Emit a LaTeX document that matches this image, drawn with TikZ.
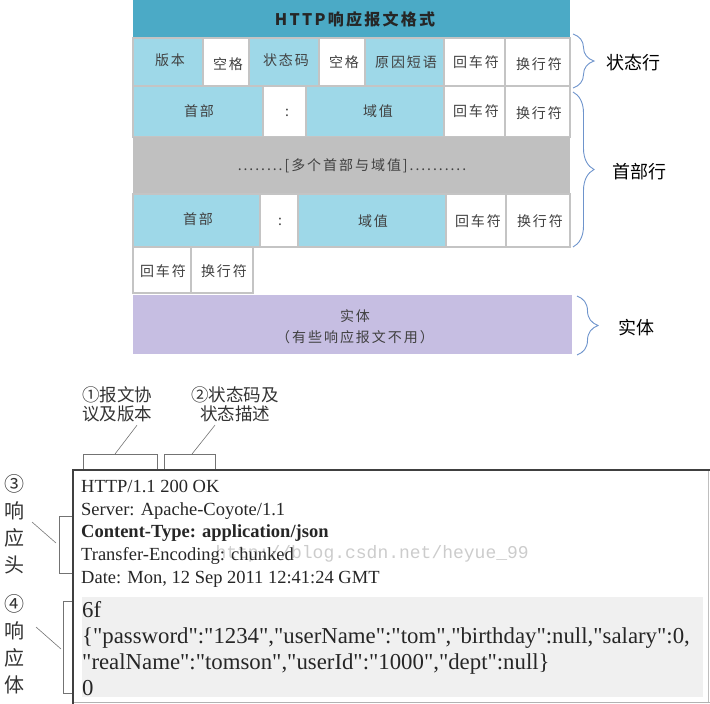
\documentclass[tikz,border=0pt]{standalone}
\usepackage{fontspec}
\setmainfont[Ligatures=TeXOff]{Liberation Serif}
\setmonofont{Liberation Mono}
\newfontfamily\cjk{Noto Sans CJK SC}
\newfontfamily\cjkcell[LetterSpace=14]{Noto Sans CJK SC}
\usetikzlibrary{positioning,calc}
\usetikzlibrary{decorations.pathreplacing}

\definecolor{hdrblue}{RGB}{75,170,198}
\definecolor{cellblue}{RGB}{158,216,232}
\definecolor{bandgray}{RGB}{192,192,192}
\definecolor{bodypurple}{RGB}{198,190,226}
\definecolor{gapgray}{RGB}{196,196,196}
\definecolor{bracecol}{RGB}{110,148,204}
\definecolor{bodyfill}{RGB}{240,240,240}

\tikzset{
  cell/.style={draw=gapgray, line width=1.6pt},
  celltext/.style={font=\cjkcell\fontsize{14}{16}\selectfont, text=black!75},
  sidebrace/.style={draw=bracecol, line width=0.9pt, decorate,
    decoration={brace, amplitude=21pt}},
  sidetext/.style={font=\cjk\fontsize{18}{20}\selectfont},
  note/.style={font=\cjk\fontsize{17.5}{19}\selectfont, align=center, text=black!80},
  leader/.style={draw=black!55, line width=0.6pt},
}

\begin{document}
\begin{tikzpicture}[x=1pt, y=-1pt]
\useasboundingbox (0,0) rectangle (710,704);

% title bar
\fill[hdrblue] (133,0) rectangle (570,38);
\node[font=\cjkcell\fontsize{16}{18}\selectfont\bfseries, text=black!85] (title) at (355,19) {HTTP响应报文格式};

% status line
\draw[cell, fill=cellblue] (133,38) rectangle (203,86);
\draw[cell, fill=white] (203,38) rectangle (249,86);
\draw[cell, fill=cellblue] (249,38) rectangle (319,86);
\draw[cell, fill=white] (319,38) rectangle (365,86);
\draw[cell, fill=cellblue] (365,38) rectangle (444,86);
\draw[cell, fill=white] (444,38) rectangle (505,86);
\draw[cell, fill=white] (505,38) rectangle (570,86);

\node[celltext] (version) at (170,60) {版本};
\node[celltext] (space1) at (228,64) {空格};
\node[celltext] (code) at (286,60) {状态码};
\node[celltext] (space2) at (344,62) {空格};
\node[celltext] (reason) at (406,62) {原因短语};
\node[celltext] (cr1) at (476,62) {回车符};
\node[celltext] (lf1) at (539,64) {换行符};

% header lines
\draw[cell, fill=cellblue] (133,86) rectangle (263,137);
\draw[cell, fill=white] (263,86) rectangle (306,137);
\draw[cell, fill=cellblue] (306,86) rectangle (444,137);
\draw[cell, fill=white] (444,86) rectangle (505,137);
\draw[cell, fill=white] (505,86) rectangle (570,137);

\node[celltext] (head1) at (199,111) {首部};
\node[celltext] (colon1) at (287,113) {:};
\node[celltext] (value1) at (378,111) {域值};
\node[celltext] (cr2) at (476,111) {回车符};
\node[celltext] (lf2) at (539,113) {换行符};

\fill[bandgray] (133,137) rectangle (570,194);
\node[celltext] (more) at (352,166) {........[多个首部与域值]..........};

\draw[cell, fill=cellblue] (133,194) rectangle (260,247);
\draw[cell, fill=white] (260,194) rectangle (298,247);
\draw[cell, fill=cellblue] (298,194) rectangle (446,247);
\draw[cell, fill=white] (446,194) rectangle (506,247);
\draw[cell, fill=white] (506,194) rectangle (570,247);

\node[celltext] (head2) at (198,219) {首部};
\node[celltext] (colon2) at (280,222) {:};
\node[celltext] (value2) at (373,221) {域值};
\node[celltext] (cr3) at (478,221) {回车符};
\node[celltext] (lf3) at (540,221) {换行符};

% empty line
\draw[cell, fill=white] (133,247) rectangle (191,293);
\draw[cell, fill=white] (191,247) rectangle (253,293);
\node[celltext] (cr4) at (163,271) {回车符};
\node[celltext] (lf4) at (224,271) {换行符};

% entity body
\fill[bodypurple] (133,295) rectangle (572,354);
\node[celltext] (entity) at (355,316) {实体};
\node[celltext] (entitynote) at (355,337) {（有些响应报文不用）};

% braces
\draw[sidebrace] (573,34) -- (573,88);
\node[sidetext] (statusrow) at (633,63) {状态行};
\draw[sidebrace] (573,92) -- (573,247);
\node[sidetext] (headrow) at (639,172) {首部行};
\draw[sidebrace] (577,296) -- (577,355);
\node[sidetext] (bodyrow) at (636,328) {实体};

% response example
\node[note] (proto) at (117,404) {①报文协\\议及版本};
\node[note] (status) at (235,404) {②状态码及\\状态描述};

\coordinate (protoB) at (115,454);
\coordinate (statusB) at (192,454);
\draw[leader] (83,470) |- (157,454) -- (157,470);
\draw[leader] (164,470) |- (215,454) -- (215,470);
\draw[leader] ($(proto.south)+(20,0)$) -- (protoB);
\draw[leader] ($(status.south)+(-20,0)$) -- (statusB);

\fill[bodyfill] (82,597) rectangle (703,697);
\draw[draw=black!25, line width=0.6pt] (708,470) -- (708,702);
\draw[draw=black!30, line width=1pt] (73,702) -- (710,702);
\draw[draw=black!75, line width=1.1pt] (710,470) -- (73,470) -- (73,704);

\node[anchor=base west, font=\ttfamily\fontsize{18}{20}\selectfont, text=black!20] (mark) at (212,558) {http://blog.csdn.net/heyue\_99};

\node[anchor=north west, align=left, inner sep=0pt, font=\fontsize{18.5}{22.7}\selectfont, text=black!85] (header) at (81,480)
  {HTTP/1.1 200 OK\\
   Server: Apache-Coyote/1.1\\
   \textbf{Content-Type: application/json}\\
   Transfer-Encoding: chunked\\
   Date: Mon, 12 Sep 2011 12:41:24 GMT};

\node[anchor=north west, align=left, inner sep=0pt, font=\fontsize{22.8}{26}\selectfont, text=black!85] (body) at (82,601)
  {6f\\
   \{"password":"1234","userName":"tom","birthday":null,"salary":0,\\
   "realName":"tomson","userId":"1000","dept":null\}\\
   0};

% side labels
\node[note, font=\cjk\fontsize{20}{27}\selectfont] (headlabel) at (15,524) {③\\响\\应\\头};
\node[note, font=\cjk\fontsize{20}{27}\selectfont] (bodylabel) at (15,644) {④\\响\\应\\体};

\coordinate (headB) at (56,543);
\coordinate (bodyB) at (61,649);
\draw[leader] (72,516) -| (59,573) -- (72,573);
\draw[leader] (72,601) -| (63,693) -- (72,693);
\draw[leader] (32,522) -- (headB);
\draw[leader] (36,627) -- (bodyB);
\end{tikzpicture}
\end{document}
